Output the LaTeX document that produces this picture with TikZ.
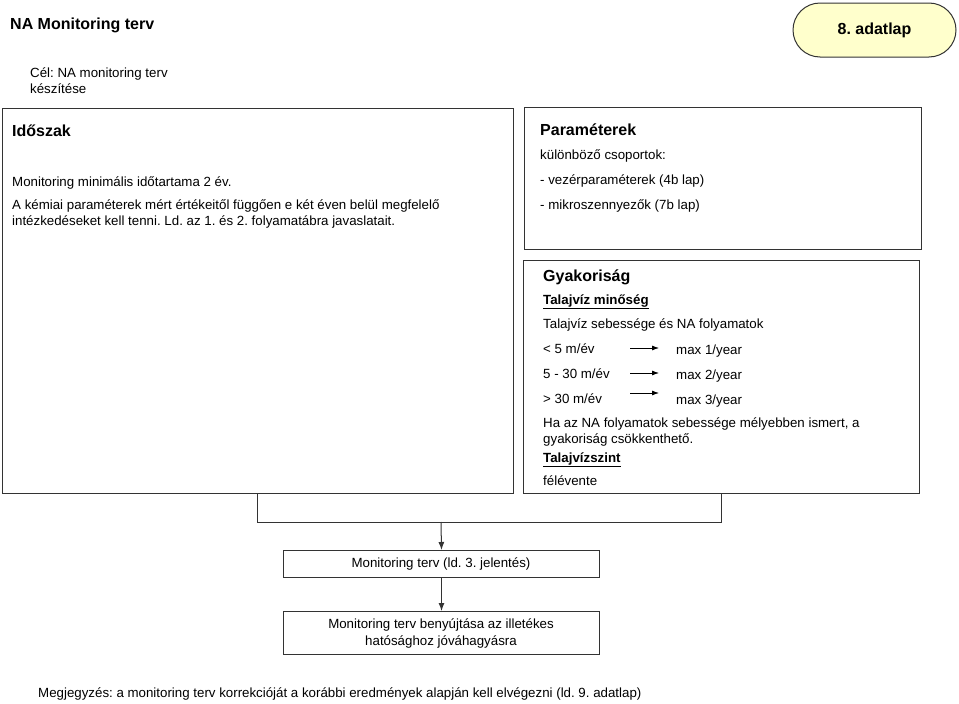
\documentclass[tikz,border=0pt]{standalone}
\usepackage{fontspec}
\setmainfont{Liberation Sans}
\usetikzlibrary{arrows.meta}
\definecolor{lineg}{HTML}{333333}
\definecolor{paleyel}{HTML}{FFFFCC}
\frenchspacing
\begin{document}
\begin{tikzpicture}[x=1pt,y=-1pt,
  box/.style={draw=lineg, line width=1pt, rectangle, inner sep=0pt, anchor=north west},
  txt/.style={anchor=base west, inner sep=0pt, font=\fontsize{13.3}{16}\selectfont},
  hd/.style={anchor=base west, inner sep=0pt, font=\fontsize{16}{19}\selectfont\bfseries},
  ul/.style={anchor=base west, inner sep=0pt, font=\fontsize{13.3}{16}\selectfont\bfseries},
  conn/.style={draw=lineg, line width=1pt},
  arr/.style={conn, -{Latex[length=8pt,width=6pt]}},
  smallarr/.style={draw=black, line width=0.8pt, -{Latex[length=7pt,width=5pt]}}]
\useasboundingbox (0,0) rectangle (959,704);

% title and goal
\node[hd] (title) at (10,29) {NA Monitoring terv};
\node[txt] (cel1) at (30,77) {Cél: NA monitoring terv};
\node[txt] (cel2) at (30,93) {készítése};

% adatlap badge
\node[draw=lineg, line width=1pt, fill=paleyel, rounded corners=27pt, minimum width=163pt,
      minimum height=54pt, inner sep=0pt, font=\fontsize{16}{19}\selectfont\bfseries]
      (adatlap) at (874.5,30) {8. adatlap};

% Időszak box
\node[box, minimum width=511pt, minimum height=385pt] (idoszak) at (2,108) {};
\node[hd] (idh) at (12,136) {Időszak};
\node[txt] (id1) at (12,186) {Monitoring minimális időtartama 2 év.};
\node[txt] (id2) at (12,209) {A kémiai paraméterek mért értékeitől függően e két éven belül megfelelő};
\node[txt] (id3) at (12,225) {intézkedéseket kell tenni. Ld. az 1. és 2. folyamatábra javaslatait.};

% Paraméterek box
\node[box, minimum width=397pt, minimum height=142pt] (param) at (524,107) {};
\node[hd] (ph) at (540,135) {Paraméterek};
\node[txt] (p1) at (540,159) {különböző csoportok:};
\node[txt] (p2) at (540,184) {- vezérparaméterek (4b lap)};
\node[txt] (p3) at (540,209) {- mikroszennyezők (7b lap)};

% Gyakoriság box
\node[box, minimum width=396pt, minimum height=233pt] (gyak) at (523,260) {};
\node[hd] (gh) at (543,281) {Gyakoriság};
\node[ul] (g1) at (543,304) {\underline{Talajvíz minőség}};
\node[txt] (g2) at (543,328) {Talajvíz sebessége és NA folyamatok};
\node[txt] (r1) at (543,353) {< 5 m/év};
\node[txt] (r2) at (543,378) {5 - 30 m/év};
\node[txt] (r3) at (543,403) {> 30 m/év};
\node[txt] (m1) at (676,354) {max 1/year};
\node[txt] (m2) at (676,379) {max 2/year};
\node[txt] (m3) at (676,404) {max 3/year};
\coordinate (a1s) at (630,348); \coordinate (a1e) at (659,348);
\coordinate (a2s) at (630,373); \coordinate (a2e) at (659,373);
\coordinate (a3s) at (630,393); \coordinate (a3e) at (659,393);
\draw[smallarr] (a1s) -- (a1e);
\draw[smallarr] (a2s) -- (a2e);
\draw[smallarr] (a3s) -- (a3e);
\node[txt] (g3) at (543,427) {Ha az NA folyamatok sebessége mélyebben ismert, a};
\node[txt] (g4) at (543,443) {gyakoriság csökkenthető.};
\node[ul] (g5) at (543,462) {\underline{Talajvízszint}};
\node[txt] (g6) at (543,485) {félévente};

% lower boxes
\node[box, minimum width=316pt, minimum height=27pt] (mterv) at (283,550) {};
\node[anchor=center, inner sep=0pt, font=\fontsize{13.3}{16}\selectfont] (mtervt) at (441,564)
  {Monitoring terv (ld. 3. jelentés)};
\node[box, minimum width=316pt, minimum height=43pt] (benyuj) at (283,611) {};
\node[anchor=center, inner sep=0pt, align=center, font=\fontsize{13.3}{17}\selectfont] (benyujt) at (441,633)
  {Monitoring terv benyújtása az illetékes\\hatósághoz jóváhagyásra};

% bracket connector
\coordinate (bl) at (idoszak.south -| 257,0);
\coordinate (br) at (gyak.south -| 721,0);
\coordinate (blc) at (257,522);
\coordinate (brc) at (721,522);
\coordinate (mid) at (441,522);
\draw[conn] (bl) -- (blc) -- (brc) -- (br);
\draw[arr] (mid) -- (mterv.north);
\draw[arr] (mterv.south) -- (benyuj.north);

% footnote
\node[txt] (note) at (38,697) {Megjegyzés: a monitoring terv korrekcióját a korábbi eredmények alapján kell elvégezni (ld. 9. adatlap)};
\end{tikzpicture}
\end{document}
